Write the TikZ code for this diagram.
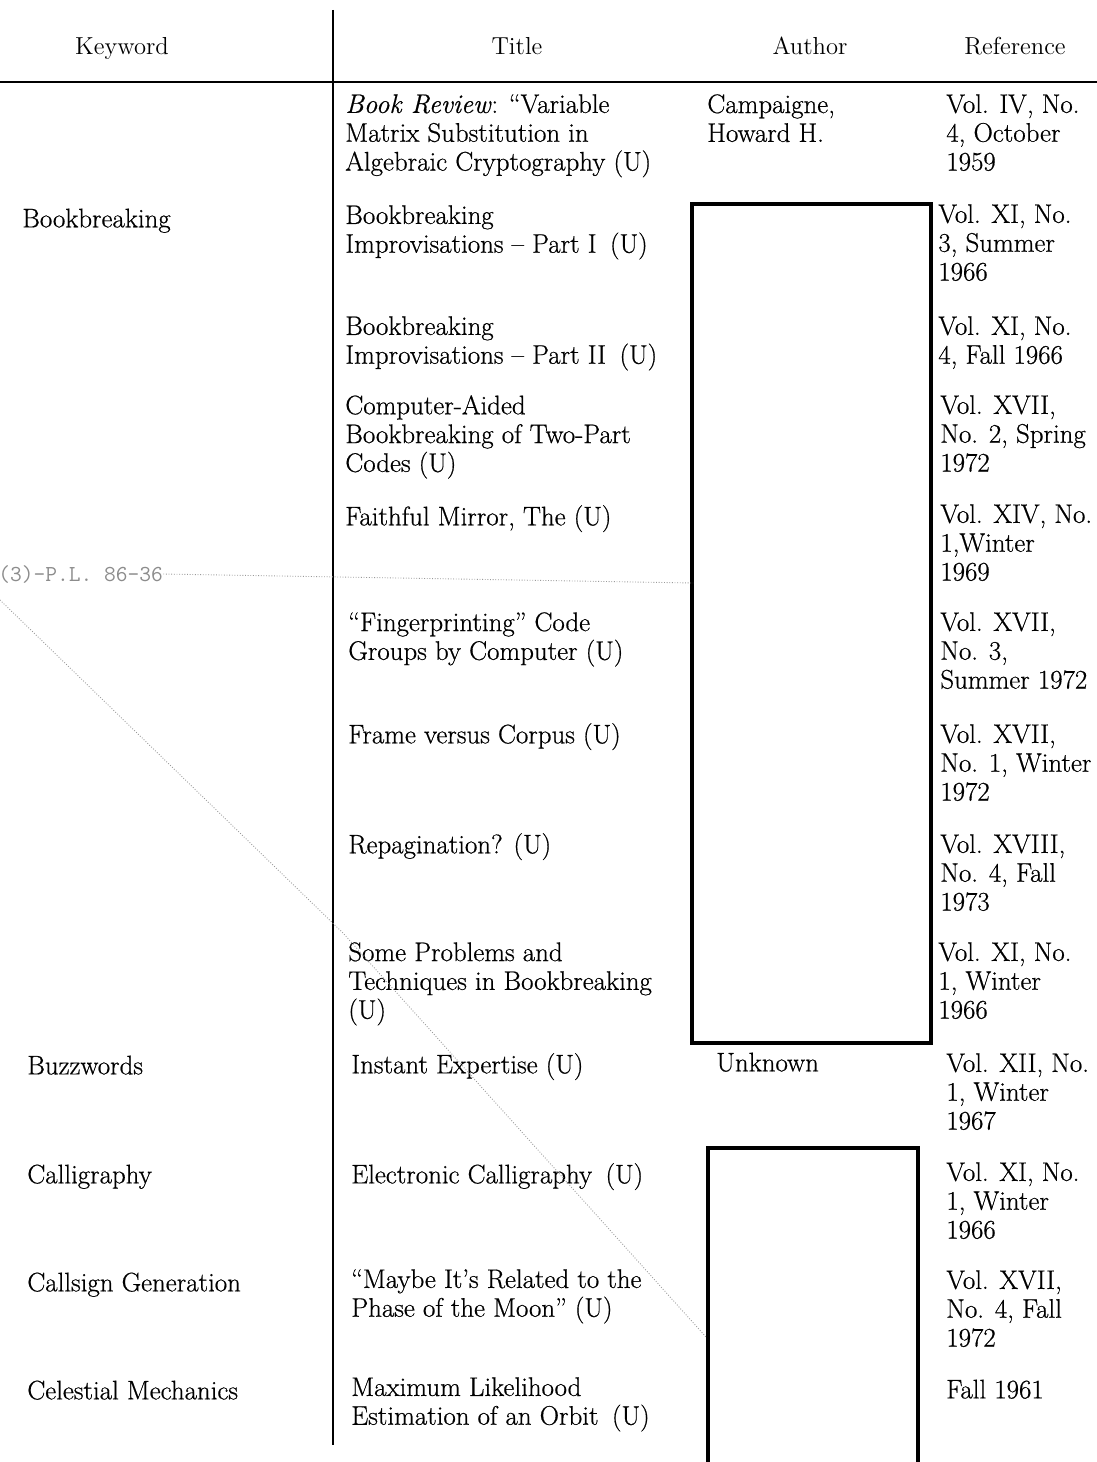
\documentclass[tikz,border=0pt]{standalone}
\usepackage{fontspec}
\newfontfamily\scanfont{Latin Modern Roman}[Ligatures=TeX, FakeBold=0.6]
\usepackage{tikz}
\usetikzlibrary{positioning}
\tikzset{
	cell text/.style={
		anchor=north west, inner sep=0pt, align=left, yshift=12pt,
		font=\scanfont\fontsize{15.3}{16.4}\selectfont,
		execute at begin node={\rule{0pt}{12pt}}
	},
	head text/.style={
		anchor=base, inner sep=0pt,
		font=\fontsize{14}{16}\selectfont
	},
	blank box/.style={
		draw=black, line width=1.8pt
	},
	table rule/.style={
		draw=black, line width=1.1pt
	},
	stamp text/.style={
		anchor=base west, inner sep=0pt, text=black!45,
		font=\fontsize{13}{14}\ttfamily
	},
	stamp line/.style={
		draw=black!40, densely dotted, line width=0.5pt
	}
}

\begin{document}
\begin{tikzpicture}[x=0.02cm, y=-0.02cm]
	\useasboundingbox (0,0) rectangle (1097,1462);
	
	% header row
	\node[head text] (h-key) at (122,55) {Keyword};
	\node[head text] (h-title) at (517,55) {Title};
	\node[head text] (h-auth) at (810,55) {Author};
	\node[head text] (h-ref) at (1015,55) {Reference};
	\draw[table rule] (0,82) -- (1097,82);
	\draw[table rule] (333,10) -- (333,1445);
	
	% keyword column
	\foreach \n/\x/\y/\t in {k2/22/227/Bookbreaking, k10/27/1074/Buzzwords,
		k11/27/1183/Calligraphy, k12/27/1291/Callsign Generation,
		k13/27/1399/Celestial Mechanics}
		\node[cell text] (\n) at (\x,\y) {\t};
	
	% title column
	\foreach \n/\x/\y/\t in {
		t1/345/115/{\textit{Book Review}: ``Variable\\Matrix Substitution in\\Algebraic Cryptography (U)},
		t2/345/226/{Bookbreaking\\Improvisations -- Part I\enspace(U)},
		t3/345/337/{Bookbreaking\\Improvisations -- Part II\enspace(U)},
		t4/345/416/{Computer-Aided\\Bookbreaking of Two-Part\\Codes (U)},
		t5/345/525/{Faithful Mirror, The (U)},
		t6/348/633/{``Fingerprinting'' Code\\Groups by Computer (U)},
		t7/348/743/{Frame versus Corpus (U)},
		t8/348/853/{Repagination? (U)},
		t9/348/963/{Some Problems and\\Techniques in Bookbreaking\\(U)},
		t10/351/1073/{Instant Expertise (U)},
		t11/351/1183/{Electronic Calligraphy\enspace(U)},
		t12/351/1290/{``Maybe It's Related to the\\Phase of the Moon'' (U)},
		t13/351/1398/{Maximum Likelihood\\Estimation of an Orbit\enspace(U)}}
		\node[cell text] (\n) at (\x,\y) {\t};
	
	% author column
	\node[cell text] (a1) at (707,115) {Campaigne,\\Howard H.};
	\node[cell text] (a10) at (716,1071) {Unknown};
	
	% reference column
	\foreach \n/\x/\y/\t in {
		r1/946/115/{Vol. IV, No.\\4, October\\1959},
		r2/938/225/{Vol. XI, No.\\3, Summer\\1966},
		r3/938/337/{Vol. XI, No.\\4, Fall 1966},
		r4/940/416/{Vol. XVII,\\No. 2, Spring\\1972},
		r5/940/525/{Vol. XIV, No.\\1,Winter\\1969},
		r6/940/633/{Vol. XVII,\\No. 3,\\Summer 1972},
		r7/940/745/{Vol. XVII,\\No. 1, Winter\\1972},
		r8/940/855/{Vol. XVIII,\\No. 4, Fall\\1973},
		r9/938/963/{Vol. XI, No.\\1, Winter\\1966},
		r10/946/1074/{Vol. XII, No.\\1, Winter\\1967},
		r11/946/1183/{Vol. XI, No.\\1, Winter\\1966},
		r12/946/1291/{Vol. XVII,\\No. 4, Fall\\1972},
		r13/946/1398/{Fall 1961}}
		\node[cell text] (\n) at (\x,\y) {\t};
	
	% blanked-out author cells
	\draw[blank box] (692,204) rectangle (931,1043);
	\draw[blank box] (708,1475) |- (918,1148) -- (918,1475);
	
	% stamp and its faint lines
	\node[stamp text] (stamp) at (-2,581) {(3)-P.L. 86-36};
	\coordinate (dot-end) at (693,583);
	\coordinate (diag-start) at (0,600);
	\coordinate (diag-mid) at (343,933);
	\coordinate (diag-end) at (706,1337);
	\draw[stamp line] (stamp.east) -- (dot-end);
	\draw[stamp line] (diag-start) -- (diag-mid) -- (diag-end);
\end{tikzpicture}
\end{document}
